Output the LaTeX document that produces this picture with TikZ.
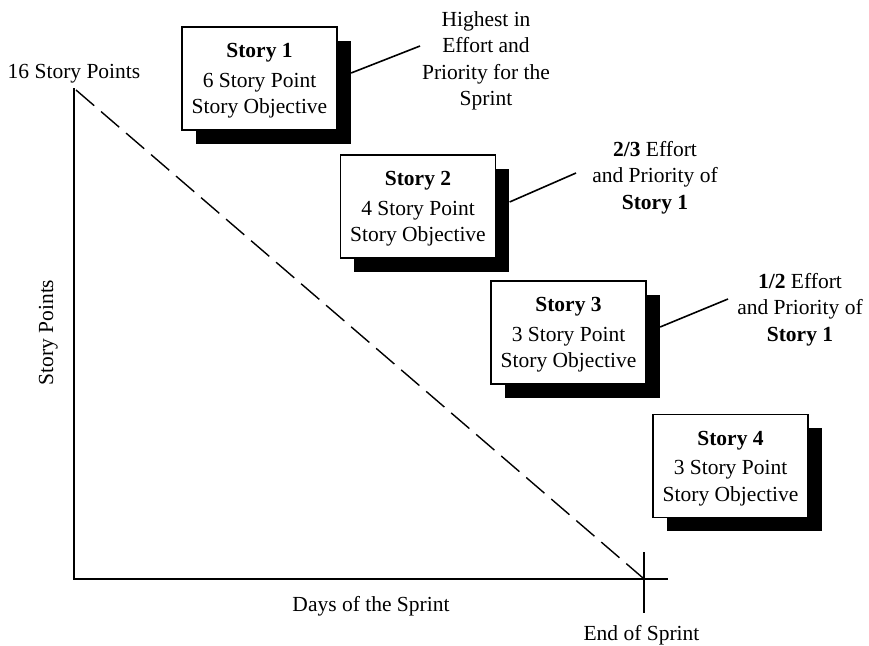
\documentclass[tikz,border=0pt]{standalone}
\usepackage{fontspec}
\setmainfont{Liberation Serif}
\usetikzlibrary{shadows,calc}

\tikzset{
  txt/.style={inner sep=0pt, font=\fontsize{21.5}{26.5}\selectfont},
  storybox/.style={txt, draw, line width=1.2pt, fill=white, align=center,
    minimum width=155pt, minimum height=103pt,
    drop shadow={shadow xshift=13.5pt, shadow yshift=-13.5pt, fill=black, opacity=1}},
  note/.style={txt, align=center, anchor=north},
  axis/.style={line width=2pt},
  leader/.style={line width=1.6pt},
  trend/.style={line width=1.4pt, dash pattern=on 24pt off 9pt}
}
% title line of a story box, with a little extra room above it
\newcommand{\storytitle}[1]{\rule{0pt}{19pt}\textbf{#1}\\[3pt]}

\begin{document}
\begin{tikzpicture}[x=1pt, y=-1pt]
  \useasboundingbox (0,0) rectangle (869,645);

  % axes and the end-of-sprint tick
  \coordinate (top) at (74,88);
  \coordinate (orig) at (74,579);
  \coordinate (xend) at (668,579);
  \coordinate (tickT) at (644,552);
  \coordinate (tickB) at (644,613);
  \coordinate (finish) at (643,578);
  \draw[axis] (top) -- (orig) -- (xend);
  \draw[axis] (tickT) -- (tickB);
  \draw[trend] (76,90) -- (finish);

  % axis labels
  \node[txt, anchor=base] (ymax) at (74,78) {16 Story Points};
  \node[txt, anchor=base, rotate=90] (ylab) at (53,332.5) {Story Points};
  \node[txt, anchor=base] (xlab) at (371,611) {Days of the Sprint};
  \node[txt, anchor=base] (endlab) at (641.5,640) {End of Sprint};

  % story boxes
  \node[storybox] (s1) at (259.5,78.5) {\storytitle{Story 1}6 Story Point\\Story Objective};
  \node[storybox] (s2) at (418,206.5) {\storytitle{Story 2}4 Story Point\\Story Objective};
  \node[storybox] (s3) at (568.5,332.5) {\storytitle{Story 3}3 Story Point\\Story Objective};
  \node[storybox] (s4) at (730.5,466) {\storytitle{Story 4}3 Story Point\\Story Objective};

  % annotations
  \node[note] (n1) at (486,11) {Highest in\\Effort and\\Priority for the\\Sprint};
  \node[note] (n2) at (655,141) {\textbf{2/3} Effort\\and Priority of\\\textbf{Story 1}};
  \node[note] (n3) at (800,273) {\textbf{1/2} Effort\\and Priority of\\\textbf{Story 1}};

  \coordinate (e1) at (420,46);
  \coordinate (e2) at (576,173);
  \coordinate (e3) at (728,299);
  \draw[leader] ($(s1.east)+(13.5,-5.5)$) -- (e1);
  \draw[leader] ($(s2.east)+(13.5,-4.5)$) -- (e2);
  \draw[leader] ($(s3.east)+(13.5,-5.5)$) -- (e3);
\end{tikzpicture}
\end{document}
